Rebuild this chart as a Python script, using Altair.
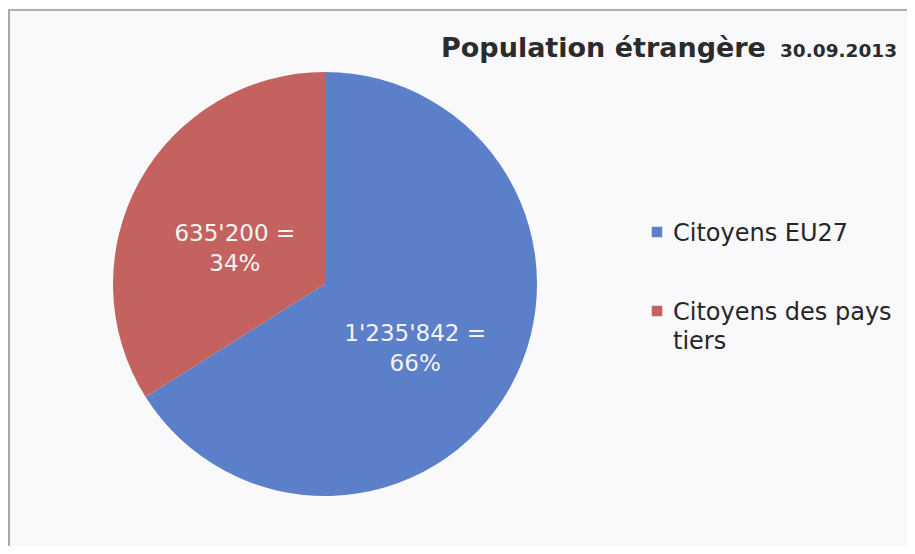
import altair as alt
import pandas as pd

# ---- data ----
categories = ["Citoyens EU27", "Citoyens des pays tiers"]
values = [1235842, 635200]
legend_lines = ["Citoyens EU27", "Citoyens des pays\ntiers"]
colors = ["#5b7fc8", "#c4625f"]
title_main = "Population étrangère"
title_date = "30.09.2013"

total = sum(values)


def fmt(v):
    return f"{v:,}".replace(",", "'")


labels = [f"{fmt(v)} =\n{round(100 * v / total)}%" for v in values]

df = pd.DataFrame({
    "cat": categories,
    "value": values,
    "label": labels,
    "legend": legend_lines,
    "order": list(range(len(categories))),
})

W, H = 899, 538
CX, CY, R = 317, 276, 212
FONT = "DejaVu Sans"

color = alt.Color("cat:N", scale=alt.Scale(domain=categories, range=colors), legend=None)
base = alt.Chart(df)

pie = base.mark_arc(outerRadius=R).encode(
    theta=alt.Theta("value:Q", stack=True),
    color=color,
    order=alt.Order("order:Q"),
    x=alt.value(CX),
    y=alt.value(CY),
)

pie_labels = base.mark_text(
    font=FONT, fontSize=23, color="#f4f4f4", lineBreak="\n",
    align="center", baseline="middle", lineHeight=30,
).encode(
    theta=alt.Theta("value:Q", stack=True),
    order=alt.Order("order:Q"),
    radius=alt.value(103),
    text="label:N",
    x=alt.value(CX),
    y=alt.value(CY),
)

ly = alt.Y("cat:N", scale=alt.Scale(type="point", padding=0, domain=categories, range=[224, 303]), axis=None)

legend_sq = base.mark_square(size=110, opacity=1).encode(
    x=alt.value(649),
    y=ly,
    color=color,
)

legend_txt = base.mark_text(
    font=FONT, fontSize=24, color="#262626", lineBreak="\n",
    align="left", baseline="alphabetic", dy=9, lineHeight=29,
).encode(
    x=alt.value(665),
    y=ly,
    text="legend:N",
)

t1 = alt.Chart(pd.DataFrame({"t": [title_main]})).mark_text(
    font=FONT, fontSize=27, fontWeight="bold", color="#2b2b2b",
    align="left", baseline="alphabetic",
).encode(x=alt.value(433), y=alt.value(49), text="t:N")

t2 = alt.Chart(pd.DataFrame({"t": [title_date]})).mark_text(
    font=FONT, fontSize=18.5, fontWeight="bold", color="#2b2b2b",
    align="left", baseline="alphabetic",
).encode(x=alt.value(772), y=alt.value(49), text="t:N")

frame_left = alt.Chart(pd.DataFrame({"a": [0]})).mark_rule(color="#a8a8a8", strokeWidth=2).encode(
    x=alt.value(1), y=alt.value(2), y2=alt.value(H)
)
frame_top = alt.Chart(pd.DataFrame({"a": [0]})).mark_rule(color="#b0b0b0", strokeWidth=2).encode(
    x=alt.value(0), x2=alt.value(W), y=alt.value(2)
)

chart = alt.layer(
    frame_left, frame_top, pie, pie_labels, legend_sq, legend_txt, t1, t2
).properties(
    width=W, height=H, autosize=alt.AutoSizeParams(type="none"), padding=0,
    background="#f9f9fb",
).configure_view(stroke=None)

chart.save("out.html", embed_options={"renderer": "svg", "actions": False})
